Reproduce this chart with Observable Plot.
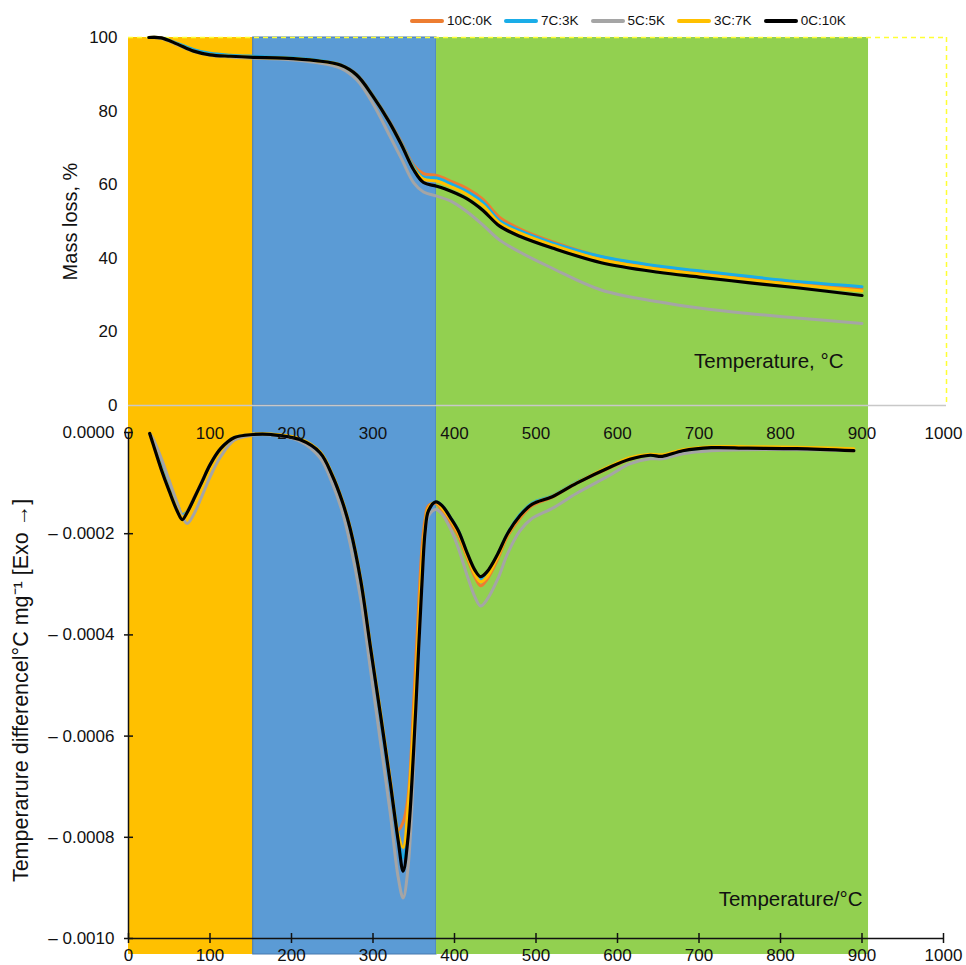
<!DOCTYPE html>
<html><head><meta charset="utf-8">
<script src="https://cdn.jsdelivr.net/npm/d3@7"></script>
<script src="https://cdn.jsdelivr.net/npm/@observablehq/plot@0.6"></script>
<style>
body{margin:0;background:#fff;font-family:"Liberation Sans",Arial,sans-serif;}
#wrap{position:relative;width:966px;height:965px;overflow:hidden;}
#wrap svg{position:absolute;left:0;top:0;overflow:visible;}
#legend{position:absolute;top:13px;left:410px;display:flex;align-items:center;font-size:13.5px;color:#111;}
#legend .it{display:flex;align-items:center;margin-right:12px;}
#legend .sw{width:34px;height:4px;margin-right:3px;border-radius:2px;}
</style></head>
<body><div id="wrap"><div id="legend"></div></div>
<script>
// ---- data ----
const series = ["10C:0K", "7C:3K", "5C:5K", "3C:7K", "0C:10K"];
const colors = ["#ED7D31", "#1AADE8", "#A5A5A5", "#FFC000", "#000000"];
const bandStart = [0, 153, 378];
const bandEnd = [153, 378, 908];
const bandColor = ["#FFC000", "#5B9BD5", "#92D050"];
const xTicks = [0, 100, 200, 300, 400, 500, 600, 700, 800, 900, 1000];
const massTicks = [0, 20, 40, 60, 80, 100];
const dtaTicks = [-0.001, -0.0008, -0.0006, -0.0004, -0.0002, 0];

// TGA: mass loss, %
const tgaT = [25, 40, 60, 80, 100, 125, 153, 190, 230, 260, 280, 300, 320, 335, 350, 362, 378, 395, 415, 435, 455, 480, 520, 580, 650, 700, 760, 820, 900];
const tga10C0K = [100, 99.9, 98.2, 96.4, 95.4, 95.0, 94.7, 94.5, 93.8, 92.6, 90.0, 84.3, 77.4, 71.5, 65.2, 63.0, 62.5, 61.0, 59.0, 56.0, 51.2, 48.0, 44.5, 40.4, 37.7, 36.4, 34.8, 33.4, 31.8];
const tga7C3K = [100, 99.9, 98.4, 96.7, 95.7, 95.2, 94.9, 94.6, 93.9, 92.6, 89.9, 84.2, 77.2, 71.2, 64.8, 62.0, 61.8, 60.3, 58.2, 55.2, 50.3, 47.5, 44.2, 40.5, 37.9, 36.6, 35.1, 33.7, 32.3];
const tga5C5K = [100, 99.8, 98.0, 96.2, 95.2, 94.7, 94.4, 94.1, 93.2, 91.7, 88.5, 82.0, 73.5, 67.0, 60.5, 58.0, 56.9, 55.6, 52.7, 49.0, 45.0, 41.7, 37.3, 31.4, 28.2, 26.5, 25.0, 23.8, 22.3];
const tga3C7K = [100, 99.9, 98.2, 96.3, 95.3, 94.9, 94.6, 94.4, 93.7, 92.5, 89.8, 84.0, 77.0, 70.9, 64.3, 61.5, 61.0, 59.5, 57.4, 54.3, 49.6, 46.9, 43.6, 39.6, 37.0, 35.7, 34.2, 32.8, 31.1];
const tga0C10K = [100, 99.9, 98.2, 96.3, 95.3, 94.9, 94.6, 94.4, 93.7, 92.5, 89.8, 84.0, 77.0, 70.8, 64.0, 60.6, 59.6, 58.3, 56.2, 53.0, 48.8, 46.0, 42.8, 38.8, 36.2, 34.9, 33.4, 32.0, 29.9];

// DTA: temperature difference, in units of 1e-4 °C mg^-1
const dtaT = [26, 30, 40, 50, 60, 66, 72, 80, 90, 100, 113, 130, 153, 175, 210, 235, 250, 262, 272, 285, 297, 309, 321, 331, 337, 343, 350, 356, 360, 364, 368, 377, 385, 395, 405, 416, 425, 432, 440, 453, 465, 480, 495, 520, 550, 590, 615, 640, 655, 680, 715, 760, 820, 890];
const dta10C0K = [-0.02, -0.22, -0.7, -1.13, -1.5, -1.66, -1.56, -1.3, -0.97, -0.64, -0.32, -0.1, -0.04, -0.04, -0.14, -0.4, -0.85, -1.35, -1.9, -2.93, -4.26, -5.56, -6.85, -7.85, -7.7, -7.2, -5.3, -3.4, -2.3, -1.7, -1.45, -1.4, -1.55, -1.78, -2.05, -2.5, -2.85, -3.03, -2.9, -2.5, -2.05, -1.7, -1.45, -1.28, -1.0, -0.7, -0.53, -0.45, -0.47, -0.36, -0.30, -0.31, -0.32, -0.36];
const dta7C3K = [-0.02, -0.16, -0.6, -1.03, -1.43, -1.62, -1.56, -1.32, -0.98, -0.64, -0.32, -0.1, -0.04, -0.04, -0.14, -0.4, -0.85, -1.35, -1.9, -2.93, -4.26, -5.56, -6.9, -8.0, -8.4, -7.8, -6.0, -4.0, -2.8, -1.9, -1.52, -1.37, -1.45, -1.68, -1.95, -2.42, -2.76, -2.9, -2.8, -2.42, -2.0, -1.63, -1.4, -1.25, -0.98, -0.68, -0.52, -0.45, -0.47, -0.36, -0.30, -0.31, -0.32, -0.35];
const dta5C5K = [-0.02, -0.12, -0.5, -0.95, -1.4, -1.66, -1.8, -1.62, -1.26, -0.88, -0.48, -0.15, -0.05, -0.05, -0.17, -0.5, -1.0, -1.55, -2.2, -3.3, -4.7, -6.1, -7.5, -8.8, -9.2, -8.6, -6.6, -4.3, -3.0, -2.0, -1.65, -1.52, -1.62, -1.9, -2.3, -2.85, -3.25, -3.43, -3.3, -2.9, -2.4, -1.95, -1.7, -1.5, -1.2, -0.85, -0.62, -0.52, -0.52, -0.42, -0.36, -0.34, -0.34, -0.36];
const dta3C7K = [-0.02, -0.22, -0.7, -1.14, -1.53, -1.68, -1.57, -1.31, -0.97, -0.64, -0.32, -0.1, -0.03, -0.03, -0.12, -0.38, -0.83, -1.33, -1.88, -2.9, -4.22, -5.5, -6.85, -7.95, -8.2, -7.4, -5.7, -3.8, -2.6, -1.85, -1.5, -1.38, -1.5, -1.72, -2.0, -2.45, -2.8, -2.95, -2.85, -2.45, -2.02, -1.66, -1.42, -1.26, -0.99, -0.67, -0.5, -0.43, -0.44, -0.34, -0.28, -0.28, -0.29, -0.32];
const dta0C10K = [-0.02, -0.22, -0.72, -1.16, -1.56, -1.72, -1.58, -1.32, -0.98, -0.64, -0.32, -0.1, -0.04, -0.04, -0.14, -0.4, -0.85, -1.35, -1.9, -2.93, -4.26, -5.56, -6.9, -8.08, -8.67, -8.0, -6.24, -4.26, -3.0, -1.95, -1.55, -1.37, -1.45, -1.68, -1.95, -2.4, -2.72, -2.85, -2.75, -2.4, -2.0, -1.65, -1.42, -1.27, -1.0, -0.69, -0.53, -0.45, -0.47, -0.36, -0.30, -0.31, -0.32, -0.36];

// ---- build tables ----
const tgaSets = [tga10C0K, tga7C3K, tga5C5K, tga3C7K, tga0C10K];
const dtaSets = [dta10C0K, dta7C3K, dta5C5K, dta3C7K, dta0C10K];
const tga = series.flatMap((s, i) => tgaT.map((t, j) => ({series: s, T: t, v: tgaSets[i][j]})));
const dta = series.flatMap((s, i) => dtaT.map((t, j) => ({series: s, T: t, v: dtaSets[i][j] * 1e-4})));
const bands = bandStart.map((s, i) => ({start: s, end: bandEnd[i], color: bandColor[i]}));

const font = '"Liberation Sans", Arial, Helvetica, sans-serif';
const colorOpt = {domain: series, range: colors};

function bandMarks(extra) {
  return bands.map((b, i) => Plot.rect([b], {x1: "start", x2: "end", fill: b.color,
    stroke: i === 1 ? "#4678AE" : "none", strokeWidth: 1, ...extra}));
}
function lineMarks(data) {
  return series.map((s, i) => Plot.line(data.filter(d => d.series === s), {
    x: "T", y: "v", stroke: colors[i], strokeWidth: i === 4 ? 3.2 : 3, curve: "catmull-rom"
  }));
}

// ---- bottom (DTA) ----
const bottomChart = Plot.plot({
  width: 966, height: 965,
  marginTop: 432, marginBottom: 27, marginLeft: 128, marginRight: 23,
  style: {fontSize: "17px", fontFamily: font, background: "transparent", color: "#111", overflow: "visible"},
  x: {domain: [0, 1000]},
  y: {domain: [-0.001, 0]},
  color: colorOpt,
  marks: [
    ...bandMarks({insetTop: -27, insetBottom: -16}),
    ...lineMarks(dta),
    Plot.ruleX([0], {stroke: "#111", strokeWidth: 1.5}),
    Plot.ruleY([-0.001], {stroke: "#111", strokeWidth: 1.5}),
    Plot.ruleX(xTicks, {x: d => d, y1: -0.001, y2: -0.001, insetTop: -5, insetBottom: -5, stroke: "#111", strokeWidth: 1.5}),
    Plot.ruleY(dtaTicks, {y: d => d, x1: 0, x2: 0, insetLeft: -4, insetRight: -5, stroke: "#111", strokeWidth: 1.5}),
    Plot.axisX({ticks: xTicks, tickSize: 0, tickPadding: 10, label: null, tickFormat: d => String(d)}),
    Plot.axisY({ticks: dtaTicks, tickSize: 0, tickPadding: 14, label: null,
      tickFormat: d => d === 0 ? "0.0000" : "\u2013 " + Math.abs(d).toFixed(4)}),
    Plot.text(["Temperature/°C"], {frameAnchor: "bottom-right", dx: -81, dy: -33, fontSize: 20.5, textAnchor: "end", fill: "#111"}),
    Plot.text(["Temperarure differencel°C mg\u207B\u00B9 [Exo \u2192]"], {frameAnchor: "left", dx: -107, dy: 5, rotate: -90, textAnchor: "middle", lineAnchor: "middle", fontSize: 21.5, fill: "#111"})
  ]
});

// ---- top (TGA) ----
const topChart = Plot.plot({
  width: 966, height: 445,
  marginTop: 37, marginBottom: 40, marginLeft: 128, marginRight: 23,
  style: {fontSize: "17px", fontFamily: font, background: "transparent", color: "#111", overflow: "visible"},
  x: {domain: [0, 1000]},
  y: {domain: [0, 100]},
  color: colorOpt,
  marks: [
    ...bandMarks({}),
    Plot.ruleY([100], {stroke: "#FFFF33", strokeWidth: 1.5, strokeDasharray: "5,4", insetRight: -3}),
    Plot.ruleX([1000], {dx: 3, stroke: "#FFFF33", strokeWidth: 1.5, strokeDasharray: "5,4"}),
    Plot.ruleY([0], {stroke: "#C8C8C8", strokeWidth: 1.5, insetRight: -3}),
    ...lineMarks(tga),
    Plot.axisX({ticks: xTicks, tickSize: 0, tickPadding: 21, label: null, tickFormat: d => String(d)}),
    Plot.axisY({ticks: massTicks, tickSize: 0, tickPadding: 11, label: null}),
    Plot.text(["Temperature, °C"], {frameAnchor: "bottom-right", dx: -100, dy: -38, fontSize: 20.5, textAnchor: "end", fill: "#111"}),
    Plot.text(["Mass loss, %"], {frameAnchor: "left", dx: -58, dy: 0, rotate: -90, textAnchor: "middle", lineAnchor: "middle", fontSize: 20, fill: "#111"})
  ]
});

const wrap = document.getElementById("wrap");
wrap.appendChild(bottomChart);
wrap.appendChild(topChart);
wrap.appendChild(document.getElementById("legend"));

const legend = d3.select("#legend");
series.forEach((s, i) => {
  const it = legend.append("div").attr("class", "it");
  it.append("div").attr("class", "sw").style("background", colors[i]);
  it.append("span").text(s);
});
</script>
</body></html>
